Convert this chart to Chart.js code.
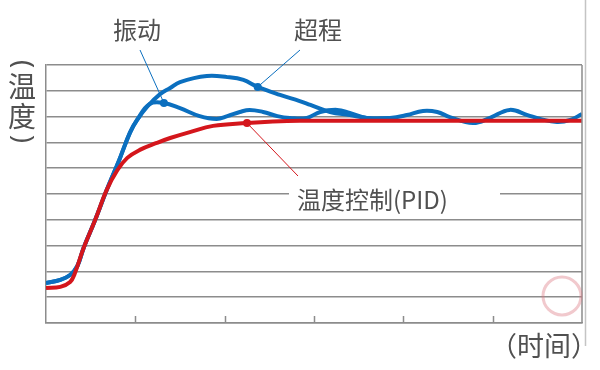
<!DOCTYPE html>
<html>
<head>
<meta charset="utf-8">
<script src="https://cdn.jsdelivr.net/npm/chart.js@4"></script>
<style>
  html, body { margin: 0; padding: 0; background: #fff; }
  canvas { display: block; }
</style>
</head>
<body>
<canvas id="chart" width="600" height="370"></canvas>
<script>
// time axis (0..6 ticks) and temperature axis (0..10 grid rows)
const timeTicks = [1, 2, 3, 4, 5];

// PID controlled response (red)
const pidX = [0, 0.16, 0.27, 0.32, 0.42, 0.55, 0.68, 0.8, 0.91, 1.05, 1.24, 1.39, 1.61, 1.87, 2.25, 2.54, 2.84, 3.5, 6];
const pidY = [1.36, 1.4, 1.59, 1.9, 2.9, 3.99, 5.16, 5.93, 6.4, 6.71, 6.98, 7.17, 7.4, 7.64, 7.75, 7.81, 7.84, 7.84, 7.84];

// overshoot response (blue)
const overX = [0, 0.16, 0.27, 0.35, 0.42, 0.55, 0.68, 0.82, 0.94, 1.02, 1.14, 1.28, 1.39, 1.5, 1.8, 2.03, 2.21, 2.37, 2.62, 2.84, 2.96, 3.18, 3.4, 3.59, 3.85];
const overY = [1.55, 1.67, 1.86, 2.2, 2.9, 3.99, 5.16, 6.32, 7.38, 7.87, 8.41, 8.88, 9.11, 9.34, 9.57, 9.53, 9.42, 9.15, 8.84, 8.6, 8.45, 8.18, 8.06, 7.95, 7.92];

// oscillating response (blue)
const oscX = [0, 0.16, 0.27, 0.35, 0.42, 0.55, 0.68, 0.82, 0.94, 1.02, 1.16, 1.32, 1.5, 1.72, 1.91, 2.03, 2.17, 2.28, 2.43, 2.59, 2.73, 2.92, 3.07, 3.26, 3.4, 3.59, 3.85, 4.04, 4.22, 4.38, 4.52, 4.78, 4.97, 5.19, 5.39, 5.53, 5.72, 5.87, 6];
const oscY = [1.55, 1.67, 1.86, 2.2, 2.9, 3.99, 5.16, 6.32, 7.38, 7.87, 8.49, 8.53, 8.33, 8.02, 7.91, 8.02, 8.18, 8.26, 8.18, 8.02, 7.95, 7.95, 8.18, 8.26, 8.14, 7.95, 7.95, 8.06, 8.22, 8.18, 7.98, 7.75, 7.95, 8.26, 8.06, 7.91, 7.79, 7.87, 8.1];

// annotated point on each curve
const pidMark = 14;
const overMark = 17;
const oscMark = 11;

const BLUE = "#0b6fbf";
const RED = "#d4161c";
const GRID = "#8c8c8c";
const TEXT = "#505050";
const FONT = "'Noto Sans CJK SC', 'Noto Sans', sans-serif";

function pts(xs, ys) {
  return xs.map((x, i) => ({ x, y: ys[i] }));
}

function line(label, xs, ys, color, mark) {
  return {
    label,
    data: pts(xs, ys),
    borderColor: color,
    backgroundColor: color,
    borderWidth: 4,
    tension: 0.4,
    pointRadius: xs.map((_, i) => (i === mark ? 4 : 0)),
    pointBorderWidth: 0,
    fill: false
  };
}

const decor = {
  id: "decor",
  afterDatasetsDraw(chart) {
    const { ctx, scales } = chart;
    const x = scales.x, y = scales.y;
    ctx.save();

    // right frame + tick marks on time axis
    ctx.strokeStyle = GRID;
    ctx.lineWidth = 1.5;
    ctx.beginPath();
    ctx.moveTo(x.getPixelForValue(6), y.getPixelForValue(10));
    ctx.lineTo(x.getPixelForValue(6), y.getPixelForValue(0));
    timeTicks.forEach((t) => {
      const px = Math.round(x.getPixelForValue(t)) + 0.5;
      ctx.moveTo(px, y.getPixelForValue(0));
      ctx.lineTo(px, y.getPixelForValue(0) - 7);
    });
    ctx.stroke();

    // outer light border
    ctx.strokeStyle = "#c4c4c4";
    ctx.beginPath();
    ctx.moveTo(585.5, 0);
    ctx.lineTo(585.5, 346);
    ctx.stroke();

    // leader lines from labels to marked points
    const leader = (xs, ys, i, tx, ty, color) => {
      ctx.strokeStyle = color;
      ctx.lineWidth = 1;
      ctx.beginPath();
      ctx.moveTo(tx, ty);
      ctx.lineTo(x.getPixelForValue(xs[i]), y.getPixelForValue(ys[i]));
      ctx.stroke();
    };
    leader(oscX, oscY, oscMark, 140, 50, BLUE);
    leader(overX, overY, overMark, 300, 50, BLUE);
    leader(pidX, pidY, pidMark, 298, 176, RED);

    // watermark ring
    ctx.strokeStyle = "rgba(221,120,130,0.4)";
    ctx.lineWidth = 3;
    ctx.beginPath();
    ctx.arc(562, 296, 19, 0, Math.PI * 2);
    ctx.stroke();

    // labels
    ctx.fillStyle = TEXT;
    ctx.textBaseline = "middle";
    ctx.font = "24px " + FONT;
    ctx.textAlign = "center";
    ctx.fillText("振动", 137, 30);
    ctx.fillText("超程", 318, 30);

    ctx.fillStyle = "#fff";
    ctx.fillRect(289, 186, 211, 18);
    ctx.fillStyle = TEXT;
    ctx.textAlign = "left";
    ctx.fillText("温度控制(PID)", 297, 200);

    // vertical axis title, brackets turned sideways
    ctx.font = "28px " + FONT;
    ctx.textAlign = "center";
    ctx.fillText("温", 22, 86.5);
    ctx.fillText("度", 22, 116);
    [["(", 64], [")", 139]].forEach(([c, cy]) => {
      ctx.save();
      ctx.translate(22, cy);
      ctx.rotate(Math.PI / 2);
      ctx.font = "27px 'Noto Sans', sans-serif";
      ctx.fillText(c, 0, 0);
      ctx.restore();
    });

    ctx.font = "27px " + FONT;
    ctx.textAlign = "left";
    ctx.fillText("（时间）", 490, 346);
    ctx.restore();
  }
};

new Chart(document.getElementById("chart"), {
  type: "line",
  data: {
    datasets: [
      line("温度控制(PID)", pidX, pidY, RED, pidMark),
      line("振动", oscX, oscY, BLUE, oscMark),
      line("超程", overX, overY, BLUE, overMark)
    ]
  },
  options: {
    responsive: false,
    animation: false,
    layout: { padding: { left: 46, top: 65, right: 18, bottom: 47 } },
    plugins: { legend: { display: false }, tooltip: { enabled: false } },
    scales: {
      x: {
        type: "linear",
        min: 0,
        max: 6,
        ticks: { display: false },
        grid: { display: false, drawTicks: false },
        border: { display: true, color: GRID, width: 1.5 }
      },
      y: {
        min: 0,
        max: 10,
        ticks: { display: false, stepSize: 1 },
        grid: { color: GRID, lineWidth: 1.5, drawTicks: false },
        border: { display: true, color: GRID, width: 1.5 }
      }
    }
  },
  plugins: [decor]
});
</script>
</body>
</html>
